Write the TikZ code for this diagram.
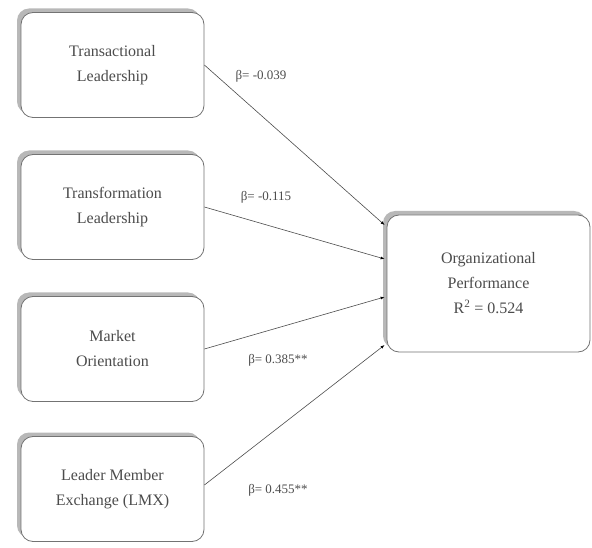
\documentclass[tikz,border=0pt]{standalone}
\usepackage{fontspec}
\setmainfont{Liberation Serif}
\usetikzlibrary{shadows}
\usetikzlibrary{calc}
\usetikzlibrary{arrows.meta}
\definecolor{boxgray}{rgb}{0.45, 0.45, 0.45}
\definecolor{shadegray}{rgb}{0.72, 0.72, 0.72}
\definecolor{textgray}{rgb}{0.3, 0.3, 0.3}

\begin{document}
\begin{tikzpicture}[x=1pt,y=1pt,
	varbox/.style={draw=boxgray, line width=0.8pt, fill=white, rounded corners=12pt,
		align=center, text=textgray, font=\fontsize{16}{25}\selectfont,
		drop shadow={shadow xshift=-4pt, shadow yshift=4pt, fill=shadegray, opacity=1}},
	path/.style={draw=textgray, line width=0.6pt, -{Latex[length=4pt,width=3pt,black]}},
	coef/.style={text=textgray, font=\fontsize{13}{15}\selectfont}]
	\useasboundingbox (0,0) rectangle (592,547);

	\def\boxwd{183}
	\def\boxht{105}

	\node[varbox, minimum width=\boxwd, minimum height=\boxht] (tal) at (112.5,482) {Transactional\\Leadership};
	\node[varbox, minimum width=\boxwd, minimum height=\boxht] (tfl) at (112.5,340) {Transformation\\Leadership};
	\node[varbox, minimum width=\boxwd, minimum height=\boxht] (mo) at (112.5,198) {Market\\Orientation};
	\node[varbox, minimum width=\boxwd, minimum height=\boxht] (lmx) at (112.5,58) {Leader Member\\Exchange (LMX)};

	\node[varbox, minimum width=203, minimum height=137] (op) at (488.5,263.5) {Organizational\\Performance\\R\textsuperscript{2} = 0.524};

	\draw[path] (tal.east) -- ([xshift=-2pt,yshift=58.5pt]op.west);
	\draw[path] (tfl.east) -- ([xshift=-2pt,yshift=24.5pt]op.west);
	\draw[path] (mo.east) -- ([xshift=-2pt,yshift=-13.5pt]op.west);
	\draw[path] ([yshift=4pt]lmx.east) -- ([xshift=-2pt,yshift=-61.5pt]op.west);

	\node[coef] (b1) at (261,471) {β= -0.039};
	\node[coef] (b2) at (266,350) {β= -0.115};
	\node[coef] (b3) at (278,187) {β= 0.385**};
	\node[coef] (b4) at (278,57) {β= 0.455**};
\end{tikzpicture}
\end{document}
